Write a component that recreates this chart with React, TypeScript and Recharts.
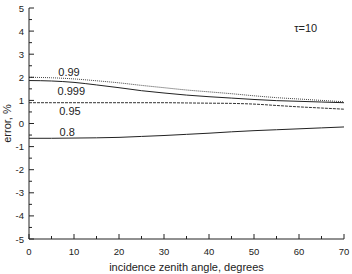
import { LineChart, Line, XAxis, YAxis, ReferenceDot } from "recharts";

const angles = [0, 5, 10, 15, 20, 25, 30, 35, 40, 45, 50, 55, 60, 65, 70];
const err099 = [2.0, 1.98, 1.93, 1.85, 1.76, 1.65, 1.55, 1.45, 1.37, 1.29, 1.2, 1.12, 1.06, 1.0, 0.94];
const err0999 = [1.86, 1.84, 1.78, 1.67, 1.55, 1.42, 1.32, 1.23, 1.16, 1.1, 1.04, 0.99, 0.96, 0.93, 0.9];
const err095 = [0.9, 0.9, 0.9, 0.9, 0.9, 0.9, 0.9, 0.89, 0.88, 0.87, 0.84, 0.78, 0.72, 0.67, 0.62];
const err08 = [-0.64, -0.64, -0.63, -0.62, -0.6, -0.56, -0.52, -0.47, -0.42, -0.36, -0.31, -0.27, -0.23, -0.19, -0.15];

const xTicks = [0, 5, 10, 15, 20, 25, 30, 35, 40, 45, 50, 55, 60, 65, 70];
const yTicks = [-5, -4.5, -4, -3.5, -3, -2.5, -2, -1.5, -1, -0.5, 0, 0.5, 1, 1.5, 2, 2.5, 3, 3.5, 4, 4.5, 5];

// curve labels: [text, angle, error]
const curveLabels: [string, number, number][] = [
  ["0.99", 8.9, 2.23],
  ["0.999", 9.4, 1.41],
  ["0.95", 9.1, 0.55],
  ["0.8", 8.5, -0.36],
  ["\u03c4=10", 61.5, 4.14],
];

const data = angles.map((a, i) => ({
  angle: a,
  e099: err099[i],
  e0999: err0999[i],
  e095: err095[i],
  e08: err08[i],
}));

const INK = "#222";
const FONT = "'Liberation Sans', Arial, sans-serif";

function XTickBottom({ x, y, payload }: any) {
  const major = payload.value % 10 === 0;
  return (
    <g>
      <line x1={x} y1={y} x2={x} y2={y - (major ? 5 : 3)} stroke={INK} />
      {major && (
        <text x={x} y={y + 16} textAnchor="middle" fontSize={9.5} fill={INK} fontFamily={FONT}>
          {payload.value}
        </text>
      )}
    </g>
  );
}

function XTickTop({ x, y, payload }: any) {
  const major = payload.value % 10 === 0;
  return <line x1={x} y1={y} x2={x} y2={y + (major ? 5 : 3)} stroke={INK} />;
}

function YTickLeft({ x, y, payload }: any) {
  const major = Number.isInteger(payload.value);
  return (
    <g>
      <line x1={x} y1={y} x2={x + (major ? 5 : 3)} y2={y} stroke={INK} />
      {major && (
        <text x={x - 5} y={y + 3.5} textAnchor="end" fontSize={9.5} fill={INK} fontFamily={FONT}>
          {payload.value}
        </text>
      )}
    </g>
  );
}

function YTickRight({ x, y, payload }: any) {
  const major = Number.isInteger(payload.value);
  return <line x1={x} y1={y} x2={x - (major ? 5 : 3)} y2={y} stroke={INK} />;
}

function YTitle({ viewBox }: any) {
  const cy = viewBox.y + viewBox.height / 2;
  return (
    <text
      x={11}
      y={cy}
      transform={`rotate(-90 11 ${cy})`}
      textAnchor="middle"
      fontSize={11}
      fill={INK}
      fontFamily={FONT}
    >
      error, %
    </text>
  );
}

export default function App() {
  return (
    <div style={{ position: "absolute", left: 0, top: 0, background: "#fff" }}>
      <LineChart width={352} height={274} data={data} margin={{ top: 8, right: 8, left: 0, bottom: 0 }}>
        <XAxis
          xAxisId="b"
          dataKey="angle"
          type="number"
          domain={[0, 70]}
          ticks={xTicks}
          interval={0}
          height={35}
          tickSize={0}
          tickMargin={0}
          tickLine={false}
          axisLine={{ stroke: INK }}
          tick={<XTickBottom />}
          label={{
            value: "incidence zenith angle, degrees",
            position: "insideBottom",
            offset: 3,
            fontSize: 11,
            fill: INK,
            fontFamily: FONT,
          }}
        />
        <XAxis
          xAxisId="t"
          orientation="top"
          dataKey="angle"
          type="number"
          domain={[0, 70]}
          ticks={xTicks}
          interval={0}
          height={0}
          tickSize={0}
          tickMargin={0}
          tickLine={false}
          axisLine={{ stroke: INK }}
          tick={<XTickTop />}
        />
        <YAxis
          yAxisId="l"
          type="number"
          domain={[-5, 5]}
          ticks={yTicks}
          interval={0}
          width={29}
          tickSize={0}
          tickMargin={0}
          tickLine={false}
          axisLine={{ stroke: INK }}
          tick={<YTickLeft />}
          label={<YTitle />}
        />
        <YAxis
          yAxisId="r"
          orientation="right"
          type="number"
          domain={[-5, 5]}
          ticks={yTicks}
          interval={0}
          width={0}
          tickSize={0}
          tickMargin={0}
          tickLine={false}
          axisLine={{ stroke: INK }}
          tick={<YTickRight />}
        />
        <Line xAxisId="b" yAxisId="l" type="monotone" dataKey="e099" stroke="#444" strokeWidth={1} strokeDasharray="1 1" dot={false} isAnimationActive={false} />
        <Line xAxisId="b" yAxisId="l" type="monotone" dataKey="e0999" stroke={INK} strokeWidth={1} dot={false} isAnimationActive={false} />
        <Line xAxisId="b" yAxisId="l" type="monotone" dataKey="e095" stroke="#333" strokeWidth={1} strokeDasharray="3 1" dot={false} isAnimationActive={false} />
        <Line xAxisId="b" yAxisId="l" type="monotone" dataKey="e08" stroke={INK} strokeWidth={1} dot={false} isAnimationActive={false} />
        {curveLabels.map(([t, a, e]) => (
          <ReferenceDot
            key={t}
            xAxisId="b"
            yAxisId="l"
            x={a}
            y={e}
            r={0}
            fill="none"
            stroke="none"
            label={{ value: t, position: "center", fontSize: 11, fill: INK, fontFamily: FONT }}
          />
        ))}
      </LineChart>
    </div>
  );
}
